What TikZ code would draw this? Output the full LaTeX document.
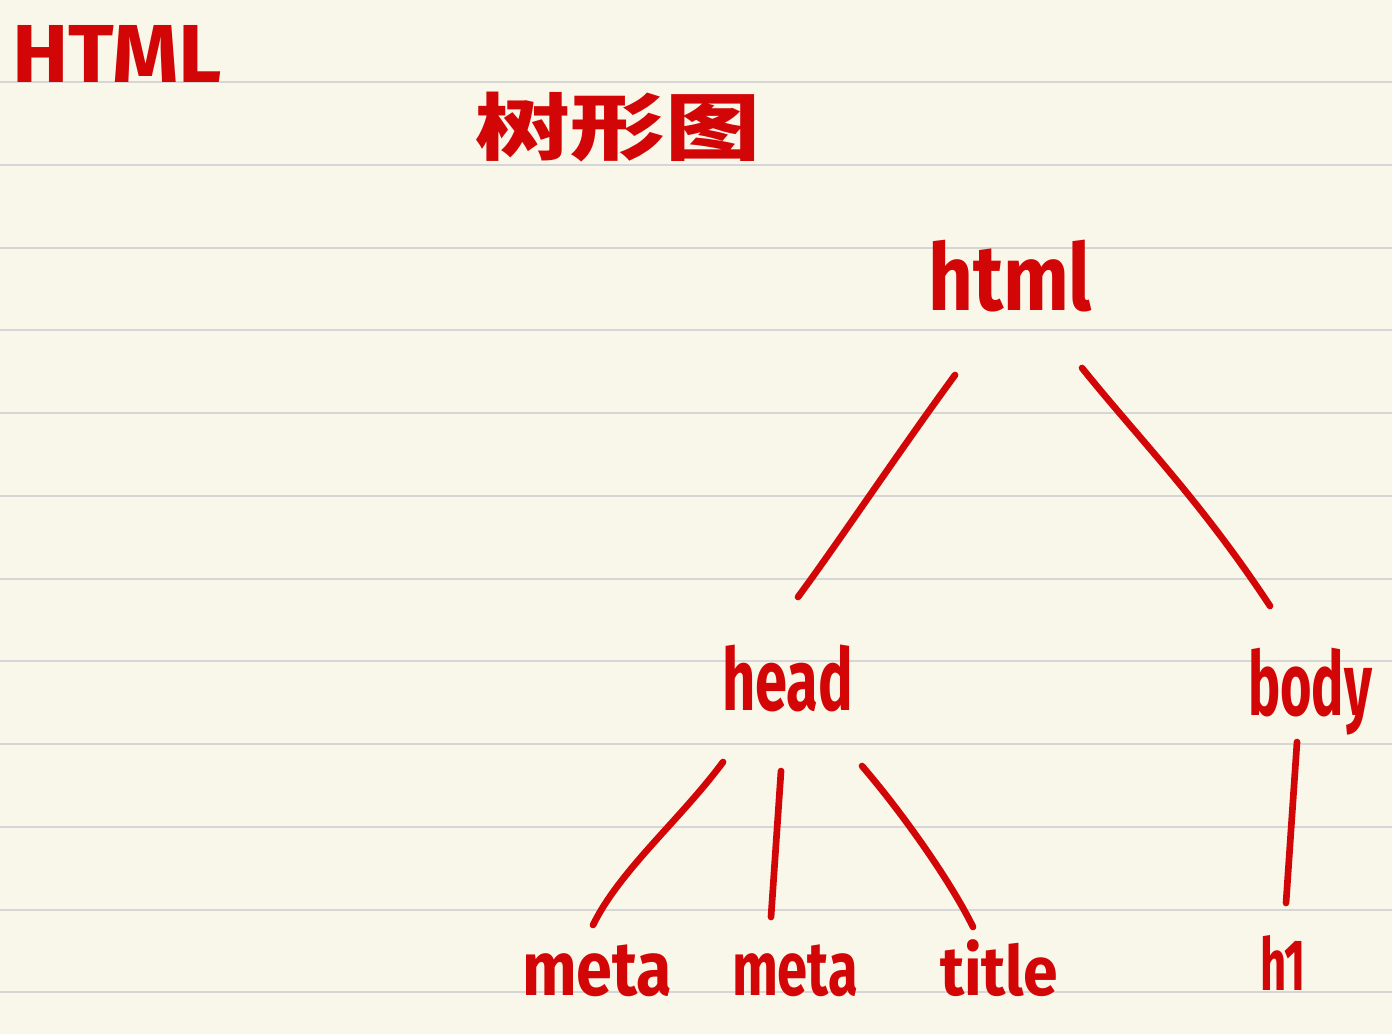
\documentclass[tikz,border=0pt]{standalone}
\usepackage{fontspec}
\usepackage{graphicx}
\setmainfont{Fira Sans}
\newfontfamily\cjk{Noto Sans CJK SC}
\definecolor{paper}{HTML}{F9F7EA}
\definecolor{rule}{HTML}{D6D6D6}
\definecolor{ink}{HTML}{D20606}
\newcommand\hw[3]{\resizebox*{#1}{#2}{#3}}
\tikzset{
  lbl/.style={inner sep=0pt, outer sep=0pt, anchor=north west, text=ink, font=\bfseries},
  edge/.style={draw=ink, line width=1.9pt, line cap=round},
  ruleline/.style={draw=rule, line width=0.6pt}
}
\begin{document}
\begin{tikzpicture}[x=0.01cm, y=-0.01cm]
\fill[paper] (0,0) rectangle (1392,1034);
\useasboundingbox (0,0) rectangle (1392,1034);
\foreach \yy in {82,165,248,330,413,496,579,661,744,827,910,992}
  \draw[ruleline] (0,\yy) -- (1392,\yy);

\node[lbl] (title) at (12,25) {\hw{2.10cm}{0.57cm}{HTML}};
\node[lbl] (tree) at (475,92) {\hw{2.85cm}{0.70cm}{\cjk\bfseries 树形图}};
\node[lbl] (html) at (928,240) {\hw{1.64cm}{0.72cm}{html}};
\node[lbl] (head) at (722,645) {\hw{1.31cm}{0.67cm}{head}};
\node[lbl] (body) at (1248,648) {\hw{1.24cm}{0.87cm}{body}};
\node[lbl] (metaA) at (522,945) {\hw{1.50cm}{0.52cm}{meta}};
\node[lbl] (metaB) at (732,945) {\hw{1.26cm}{0.52cm}{meta}};
\node[lbl] (ttl) at (940,940) {\hw{1.18cm}{0.57cm}{title}};
\node[lbl] (hone) at (1260,935) {\hw{0.46cm}{0.55cm}{h1}};

\coordinate (html-l) at (955,375);
\coordinate (html-r) at (1082,368);
\coordinate (head-t) at (798,597);
\coordinate (body-t) at (1270,606);
\coordinate (head-l) at (723,762);
\coordinate (head-m) at (781,771);
\coordinate (head-r) at (862,766);
\coordinate (metaA-t) at (593,925);
\coordinate (metaB-t) at (771,917);
\coordinate (ttl-t) at (973,927);
\coordinate (body-b) at (1297,742);
\coordinate (hone-t) at (1286,903);

\draw[edge] (html-l) .. controls (900,450) and (840,540) .. (head-t);
\draw[edge] (html-r) .. controls (1140,440) and (1200,500) .. (body-t);
\draw[edge] (head-l) .. controls (680,820) and (620,870) .. (metaA-t);
\draw[edge] (head-m) -- (metaB-t);
\draw[edge] (head-r) .. controls (900,810) and (950,880) .. (ttl-t);
\draw[edge] (body-b) -- (hone-t);
\end{tikzpicture}
\end{document}
